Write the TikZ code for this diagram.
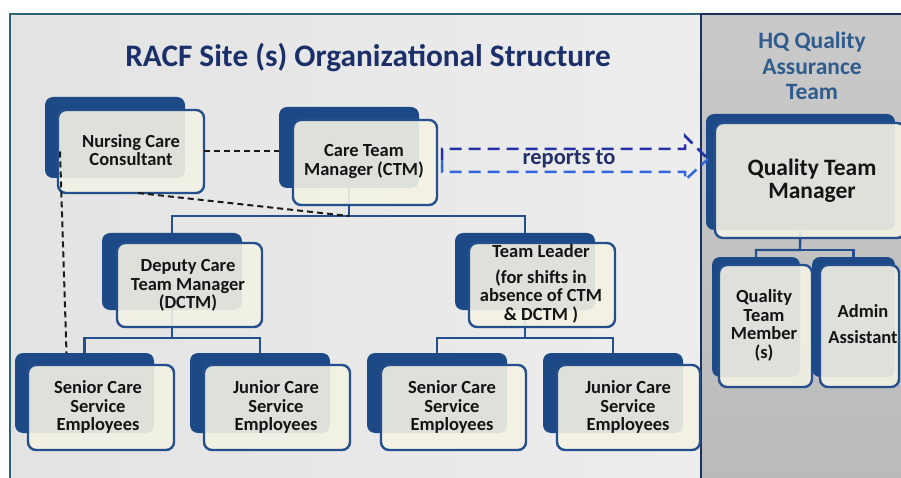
\documentclass[tikz,border=0pt]{standalone}
\usepackage{fontspec}
\setmainfont{Carlito}
\usetikzlibrary{fit}

\definecolor{navyback}{HTML}{1D4A86}
\definecolor{navyline}{HTML}{244F8C}
\definecolor{cream}{HTML}{F3F2E4}
\definecolor{titleblue}{HTML}{1B2F6A}
\definecolor{hqblue}{HTML}{2F5C8C}
\definecolor{tealedge}{HTML}{2C6473}
\definecolor{paneledge}{HTML}{1A3060}
\definecolor{arrowtop}{HTML}{2430A8}
\definecolor{arrowbot}{HTML}{3266DE}
\definecolor{reportsink}{HTML}{23306A}

\pgfdeclarelayer{panel}
\pgfdeclarelayer{wires}
\pgfsetlayers{panel,wires,main}

\tikzset{
  backbox/.style={fill=navyback, rounded corners=8pt, inner sep=0pt, outer sep=0pt},
  frontbox/.style={fill=cream, fill opacity=0.9, draw=navyline, line width=2.4pt,
                   rounded corners=8pt, inner sep=0pt, outer sep=0pt},
  lbl/.style={align=center, inner sep=0pt, text=black!92,
              font=\bfseries\fontsize{18.5}{18.8}\selectfont},
  biglbl/.style={align=center, inner sep=0pt, text=black!92,
              font=\bfseries\fontsize{23.5}{23}\selectfont},
  conn/.style={draw=navyline, line width=2.4pt},
  advisory/.style={draw=black!90, line width=2pt, dash pattern=on 6pt off 4pt},
  reportline/.style={line width=2.5pt, dash pattern=on 12pt off 7pt},
}

% a unit of the chart: shadow card behind, framed card in front
\newcommand{\orgcard}[3]{%
  \node[backbox, fit={#2}] (#1-b) {};
  \node[frontbox, fit={#3}] (#1) {};}

\begin{document}
\begin{tikzpicture}[x=1pt, y=-1pt]
\useasboundingbox (0,0) rectangle (901,478);

% ---------- panels ----------
\begin{pgfonlayer}{panel}
  \fill[white] (0,0) rectangle (901,478);
  \shade[left color=black!11, right color=black!7] (10,14) rectangle (701,482);
  \draw[tealedge, line width=2.5pt] (10,482) -- (10,14) -- (701,14);
  \shade[top color=black!21, bottom color=black!27] (701,14) rectangle (905,482);
  \draw[paneledge, line width=2.8pt] (701,482) -- (701,14) -- (905,14);
\end{pgfonlayer}

% ---------- headings ----------
\node[anchor=base, text=titleblue, inner sep=0pt,
      font=\bfseries\fontsize{31.3}{32}\selectfont] (title) at (368,67)
  {RACF Site (s) Organizational Structure};
\node[align=center, inner sep=0pt, text=hqblue,
      font=\bfseries\fontsize{23.5}{25.5}\selectfont] (hq) at (812,66)
  {HQ Quality\\Assurance\\Team};

% ---------- cards ----------
\orgcard{ncc}{(45,97)(185,178)}{(58,110)(204,193)}
\orgcard{ctm}{(279,107)(419,188)}{(293,120)(437,205)}
\orgcard{dctm}{(102,233)(242,310)}{(117,243)(262,327)}
\orgcard{tl}{(455,233)(595,310)}{(469,243)(615,327)}
\orgcard{sl}{(15,353)(154,433)}{(28,365)(174,450)}
\orgcard{jl}{(190,353)(330,433)}{(204,365)(350,450)}
\orgcard{sr}{(367,353)(507,433)}{(381,365)(526,450)}
\orgcard{jr}{(543,353)(683,433)}{(557,365)(700,450)}
\orgcard{qtm}{(706,114)(895,230)}{(715,123)(905,238)}
\orgcard{qtmem}{(712,257)(800,377)}{(719,265)(812,387)}
\orgcard{admin}{(812,257)(895,377)}{(820,265)(899,387)}

% ---------- card texts ----------
\node[lbl] (ncc-t)   at (131,150)   {Nursing Care\\Consultant};
\node[lbl] (ctm-t)   at (364,161.5) {Care Team\\Manager (CTM)};
\node[lbl] (dctm-t)  at (188,285.5) {Deputy Care\\Team Manager\\(DCTM)};
\node[lbl] (tl-t)    at (541,284)   {Team Leader\\[7pt](for shifts in\\absence of CTM\\\& DCTM )};
\node[lbl] (sl-t)    at (98,407)    {Senior Care\\Service\\Employees};
\node[lbl] (jl-t)    at (276,407)   {Junior Care\\Service\\Employees};
\node[lbl] (sr-t)    at (452,407)   {Senior Care\\Service\\Employees};
\node[lbl] (jr-t)    at (628,407)   {Junior Care\\Service\\Employees};
\node[biglbl] (qtm-t) at (812,180.5) {Quality Team\\Manager};
\node[lbl] (qtmem-t) at (764,325.5) {Quality\\Team\\Member\\(s)};
\node[lbl] (admin-t) at (863,324)   {Admin\\[7pt]Assistant};

% ---------- reporting lines ----------
\begin{pgfonlayer}{wires}
  \coordinate (busA) at (349,216);
  \coordinate (busB) at (172,338);
  \coordinate (busC) at (525,338);
  \coordinate (busD) at (800,250);
  \draw[conn] (ctm-b.center) -- (busA) -| (dctm-b.north);
  \draw[conn] (busA) -| (tl-b.north);
  \draw[conn] (dctm-b.center) -- (busB) -| (sl-b.north);
  \draw[conn] (busB) -| (jl-b.north);
  \draw[conn] (tl-b.center) -- (busC) -| (sr-b.north);
  \draw[conn] (busC) -| (jr-b.north);
  \draw[conn] (qtm-b.center) -- (busD) -| (qtmem-b.north);
  \draw[conn] (busD) -| (admin-b.north);
\end{pgfonlayer}

% ---------- advisory links of the nursing consultant ----------
\draw[advisory] (ncc.east) -- (ncc.east -| ctm-b.west);
\draw[advisory] ([xshift=7pt]ncc.south) -- (busA);
\draw[advisory] ([xshift=2pt]ncc.west) -- ([xshift=-18pt]sl-b.north);

% ---------- "reports to" block arrow ----------
\coordinate (ra-l) at (442,160.5);
\coordinate (ra-tip) at (708,159);
\draw[reportline, arrowtop] (ra-l) -- (442,149) -- (685,149) -- (685,136) -- (ra-tip);
\draw[reportline, arrowbot] (ra-l) -- (442,172) -- (685,172) -- (685,180) -- (ra-tip);
\node[anchor=base, inner sep=0pt, text=reportsink,
      font=\bfseries\fontsize{22.5}{24}\selectfont] (reports) at (569,165) {reports to};

\end{tikzpicture}
\end{document}
